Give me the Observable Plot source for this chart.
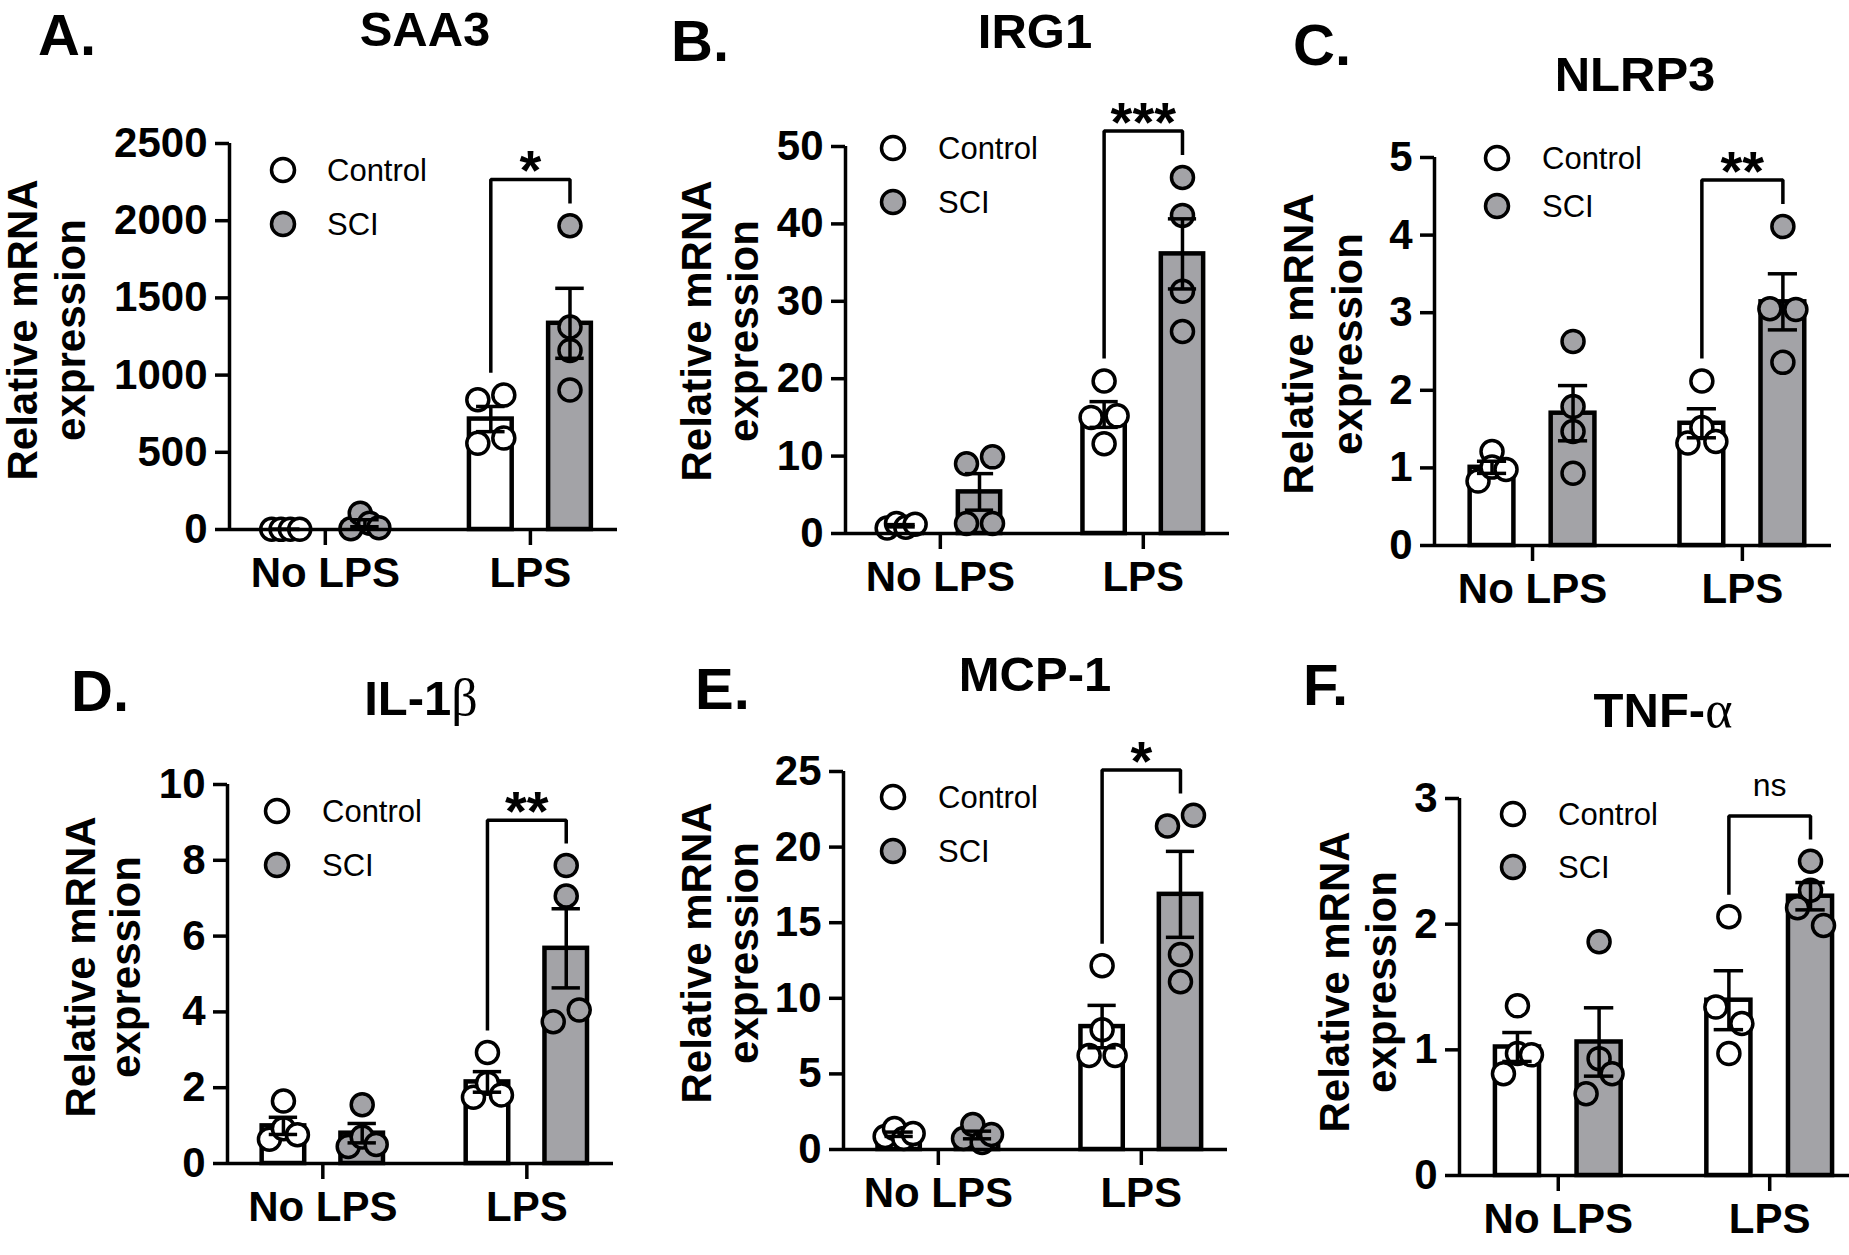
<!DOCTYPE html>
<html><head><meta charset="utf-8">
<script src="https://cdn.jsdelivr.net/npm/d3@7"></script>
<script src="https://cdn.jsdelivr.net/npm/@observablehq/plot@0.6"></script>
<style>
html,body{margin:0;padding:0;background:#fff;}
body{width:1849px;height:1255px;overflow:hidden;position:relative;font-family:"Liberation Sans",Arial,Helvetica,sans-serif;}
.panel{position:absolute;}
#overlay{position:absolute;left:0;top:0;}
</style></head>
<body>
<svg id="overlay" width="1849" height="1255"></svg>
<script>
// ---------- data ----------
const groups = ["No LPS", "LPS"];
const treatments = ["Control", "SCI"];
const panelLetters = ["A.", "B.", "C.", "D.", "E.", "F."];
const geneNames = ["SAA3", "IRG1", "NLRP3", "IL-1", "MCP-1", "TNF-"];
const geneGreek = ["", "", "", "β", "", "α"];
const yMaxes = [2500, 50, 5, 10, 25, 3];
const ySteps = [500, 10, 1, 2, 5, 1];
const sigLabels = ["*", "***", "**", "**", "*", "ns"];
// each: [No LPS Control, No LPS SCI, LPS Control, LPS SCI]
const saa3 = [[1.1, 0.9, 1.0, 1.0], [5, 105, 40, 12], [840, 871, 558, 592], [1967, 1311, 1160, 904]];
const irg1 = [[0.7, 1.3, 0.8, 1.2], [9.0, 9.9, 1.3, 1.3], [19.7, 15.0, 15.2, 11.6], [46.0, 41.1, 31.3, 26.1]];
const nlrp3 = [[1.21, 0.83, 1.01, 0.98], [2.63, 1.79, 1.47, 0.93], [2.12, 1.32, 1.52, 1.34], [4.11, 3.05, 3.04, 2.36]];
const il1b = [[1.65, 0.64, 0.92, 0.76], [1.55, 0.45, 0.7, 0.5], [2.93, 1.75, 2.12, 1.81], [7.86, 7.06, 3.74, 4.05]];
const mcp1 = [[0.86, 1.39, 0.73, 1.05], [0.73, 1.65, 0.47, 0.99], [12.16, 6.22, 7.92, 6.22], [21.4, 22.1, 12.9, 11.1]];
const tnfa = [[1.35, 0.81, 0.97, 0.96], [1.86, 0.93, 0.65, 0.81], [2.06, 1.34, 1.21, 0.97], [2.5, 2.27, 2.13, 1.99]];
const panelValues = [saa3, irg1, nlrp3, il1b, mcp1, tnfa];

// ---------- layout / style ----------
const FONT = '"Liberation Sans", Arial, Helvetica, sans-serif';
const SERIF = '"Liberation Serif", "DejaVu Serif", serif';
const GRAY = "#a3a3a7";
const LW = 3.5;
const ML = 130, MR = 20, MT = 130, MB = 90;
const XEND = 4.9, C0 = 0.71, GSTEP = 2.59, HALF = 0.27, CAP = 0.18;
const DOT_R = 11, DOT_D = 26, ROW_GAP = 21, SPREAD = 28;
const layout = [
  {ax: 229, y0: 529, yt: 143, xe: 617, letter: [38, 55], title: [425, 46], ylab: [37, 85, 330], leg: [283, 170, 224, 327]},
  {ax: 845, y0: 533, yt: 146, xe: 1229, letter: [671, 61], title: [1035, 48], ylab: [711, 758, 331], leg: [893, 148, 202, 938]},
  {ax: 1434, y0: 545, yt: 157, xe: 1831, letter: [1293, 65], title: [1635, 91], ylab: [1313, 1362, 344], leg: [1497, 158, 206, 1542]},
  {ax: 227, y0: 1163, yt: 784, xe: 613, letter: [71, 711], title: [421, 715], ylab: [95, 140, 967], leg: [277, 811, 865, 322]},
  {ax: 843, y0: 1149, yt: 771, xe: 1227, letter: [695, 709], title: [1035, 691], ylab: [711, 758, 953], leg: [893, 797, 851, 938]},
  {ax: 1459, y0: 1175, yt: 798, xe: 1859, letter: [1303, 705], title: [1663, 727], ylab: [1349, 1396, 982], leg: [1513, 814, 867, 1558]}
];

function dodge(values, pxY, pxX) {
  const idx = d3.range(values.length).sort((a, b) => values[a] - values[b]);
  const rows = []; let row = null, start = 0;
  for (const i of idx) {
    if (row && (values[i] - start) * pxY < ROW_GAP) row.push(i);
    else { row = [i]; start = values[i]; rows.push(row); }
  }
  const off = new Array(values.length).fill(0);
  for (const r of rows) {
    r.sort((a, b) => a - b);
    const n = r.length;
    const s = n > 1 ? Math.min(DOT_D, SPREAD / (n - 1)) : 0;
    r.forEach((i, k) => off[i] = (k - (n - 1) / 2) * s / pxX);
  }
  return off;
}

const overlay = d3.select("#overlay");

layout.forEach((L, p) => {
  const W = L.xe - L.ax, H = L.y0 - L.yt;
  const yMax = yMaxes[p], step = ySteps[p];
  const pxX = W / XEND, pxY = H / yMax;
  const vals = panelValues[p];
  const bars = [], pts = [];
  vals.forEach((v, j) => {
    const g = Math.floor(j / 2), t = j % 2;
    const c = C0 + g * GSTEP + t;
    const mean = d3.mean(v), sem = d3.deviation(v) / Math.sqrt(v.length);
    bars.push({c, mean, sem, t, group: groups[g], treatment: treatments[t]});
    const off = dodge(v, pxY, pxX);
    v.forEach((y, i) => pts.push({x: c + off[i], y, t}));
  });
  const groupCenters = groups.map((g, gi) => C0 + gi * GSTEP + 0.5);
  const ctl = bars[2], sci = bars[3];
  const maxC = Math.max(d3.max(vals[2]), ctl.mean + ctl.sem);
  const maxS = Math.max(d3.max(vals[3]), sci.mean + sci.sem);
  const top = Math.max(maxC, maxS) + 0.12 * yMax;
  const bracket = [
    {x: ctl.c, y: maxC + 0.058 * yMax}, {x: ctl.c, y: top},
    {x: sci.c, y: top}, {x: sci.c, y: maxS + 0.058 * yMax}
  ];
  const isNs = sigLabels[p] === "ns";

  const chart = Plot.plot({
    width: W + ML + MR, height: H + MT + MB,
    marginLeft: ML, marginRight: MR, marginTop: MT, marginBottom: MB,
    x: {domain: [0, XEND]},
    y: {domain: [0, yMax]},
    style: {background: "transparent", overflow: "visible", fontFamily: FONT, maxWidth: "none", color: "black"},
    marks: [
      Plot.rect(bars.filter(d => d.t === 0), {x1: d => d.c - HALF, x2: d => d.c + HALF, y1: () => 0, y2: "mean", fill: "white", stroke: "black", strokeWidth: 4.5}),
      Plot.rect(bars.filter(d => d.t === 1), {x1: d => d.c - HALF, x2: d => d.c + HALF, y1: () => 0, y2: "mean", fill: GRAY, stroke: "black", strokeWidth: 4.5}),
      Plot.dot(pts.filter(d => d.t === 0), {x: "x", y: "y", r: DOT_R, fill: "white", stroke: "black", strokeWidth: LW}),
      Plot.dot(pts.filter(d => d.t === 1), {x: "x", y: "y", r: DOT_R, fill: GRAY, stroke: "black", strokeWidth: LW}),
      Plot.ruleX(bars, {x: "c", y1: d => d.mean - d.sem, y2: d => d.mean + d.sem, stroke: "black", strokeWidth: LW}),
      Plot.ruleY(bars, {y: d => d.mean + d.sem, x1: d => d.c - CAP, x2: d => d.c + CAP, stroke: "black", strokeWidth: LW}),
      Plot.ruleY(bars, {y: d => d.mean - d.sem, x1: d => d.c - CAP, x2: d => d.c + CAP, stroke: "black", strokeWidth: LW}),
      Plot.ruleX([0], {y1: () => 0, y2: () => yMax, stroke: "black", strokeWidth: LW}),
      Plot.ruleY([0], {x1: () => 0, x2: () => XEND, stroke: "black", strokeWidth: LW}),
      Plot.axisY({ticks: d3.range(0, yMax + step / 2, step), tickFormat: d => String(d), tickSize: 14, tickPadding: 8, stroke: "black", strokeWidth: LW, fontSize: 42, fontWeight: "bold", fill: "black", label: null}),
      Plot.axisX({ticks: groupCenters, tickFormat: d => groups[groupCenters.indexOf(d)], tickSize: 16, tickPadding: 12, stroke: "black", strokeWidth: LW, fontSize: 42, fontWeight: "bold", fill: "black", label: null}),
      Plot.line(bracket, {x: "x", y: "y", stroke: "black", strokeWidth: LW, strokeLinejoin: "miter", strokeLinecap: "butt"}),
      Plot.text([{x: (ctl.c + sci.c) / 2, y: top, s: sigLabels[p]}], {x: "x", y: "y", text: "s", fontSize: isNs ? 32 : 56, fontWeight: isNs ? "normal" : "bold", fill: "black", dy: isNs ? -30 : -8})
    ]
  });
  const div = document.createElement("div");
  div.className = "panel";
  div.style.left = (L.ax - ML) + "px";
  div.style.top = (L.yt - MT) + "px";
  div.appendChild(chart);
  document.body.appendChild(div);

  // panel letter
  overlay.append("text").attr("x", L.letter[0]).attr("y", L.letter[1])
    .attr("font-family", FONT).attr("font-weight", "bold").attr("font-size", 58).text(panelLetters[p]);
  // title
  const tt = overlay.append("text").attr("x", L.title[0]).attr("y", L.title[1]).attr("text-anchor", "middle")
    .attr("font-family", FONT).attr("font-weight", "bold").attr("font-size", 49);
  tt.append("tspan").text(geneNames[p]);
  if (geneGreek[p]) tt.append("tspan").attr("font-family", SERIF).attr("font-weight", "normal").attr("font-size", 52).text(geneGreek[p]);
  // y label (two lines)
  const yl = overlay.append("g").attr("transform", `translate(0,${L.ylab[2]}) rotate(-90)`)
    .attr("font-family", FONT).attr("font-weight", "bold").attr("font-size", 42).attr("text-anchor", "middle");
  yl.append("text").attr("x", 0).attr("y", L.ylab[0]).text("Relative mRNA");
  yl.append("text").attr("x", 0).attr("y", L.ylab[1]).text("expression");
  // legend
  treatments.forEach((name, t) => {
    const cy = t === 0 ? L.leg[1] : L.leg[2];
    overlay.append("circle").attr("cx", L.leg[0]).attr("cy", cy).attr("r", DOT_R + 0.5)
      .attr("fill", t === 0 ? "white" : GRAY).attr("stroke", "black").attr("stroke-width", LW);
    overlay.append("text").attr("x", L.leg[3]).attr("y", cy + 11)
      .attr("font-family", FONT).attr("font-size", 31).text(name);
  });
});
</script>
</body></html>
